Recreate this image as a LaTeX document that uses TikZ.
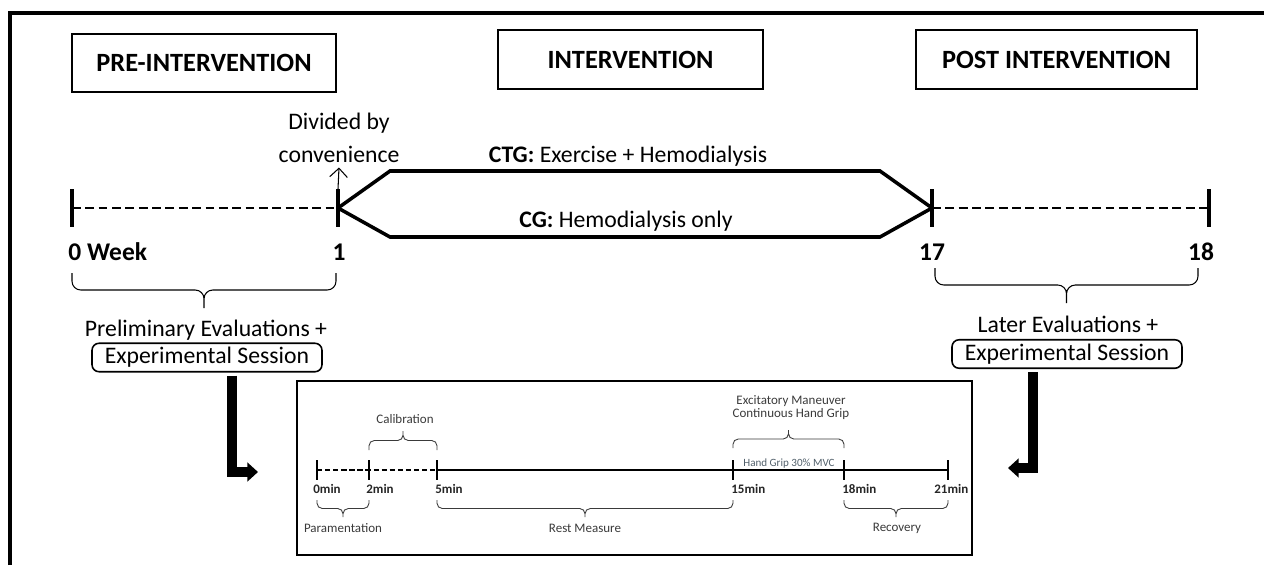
\documentclass[tikz,border=0pt]{standalone}
\usepackage{fontspec}
\setmainfont{Carlito}
\usetikzlibrary{arrows.meta,positioning}
\definecolor{inkgray}{HTML}{3A3A3A}
\definecolor{gripgray}{HTML}{52606B}

\begin{document}
\begin{tikzpicture}[x=0.02cm,y=-0.02cm,
  phase/.style={draw,line width=1.1pt,inner sep=0pt,minimum height=1.17cm,font=\fontsize{15}{18}\selectfont\bfseries},
  lbl/.style={inner sep=0pt,anchor=base,font=\fontsize{13.5}{16}\selectfont},
  wk/.style={inner sep=0pt,anchor=base,font=\fontsize{14.5}{17}\selectfont\bfseries},
  sess/.style={draw,rounded corners=4pt,line width=0.9pt,inner sep=0pt,minimum width=4.6cm,minimum height=0.57cm,font=\fontsize{13.5}{16}\selectfont},
  wtick/.style={line width=2.3pt},
  dashline/.style={line width=1.7pt,dash pattern=on 5pt off 2.6pt},
  arm/.style={line width=2pt,line join=miter},
  bigbrace/.style={rounded corners=5pt,line width=0.6pt},
  bigarrow/.style={line width=5.6pt,line join=miter,-{Triangle[width=10.5pt,length=6pt]}},
  itick/.style={line width=1.5pt},
  iline/.style={line width=1.1pt},
  idash/.style={line width=1.3pt,dash pattern=on 3pt off 1.6pt},
  imin/.style={inner sep=0pt,anchor=base west,font=\fontsize{7.4}{9}\selectfont\bfseries,text=black!85},
  itxt/.style={inner sep=0pt,anchor=base,font=\fontsize{7.4}{9}\selectfont,text=inkgray},
  ibrace/.style={rounded corners=3pt,line width=0.5pt,draw=inkgray}]
\useasboundingbox (0,0) rectangle (1264,565);
\draw[line width=2.3pt,line join=miter] (10,565) -- (10,13) -- (1264,13);

\node[phase,minimum width=5.28cm] (pre) at (204,63) {PRE-INTERVENTION};
\node[phase,minimum width=5.3cm] (inter) at (630.5,59.5) {INTERVENTION};
\node[phase,minimum width=5.62cm] (post) at (1056.5,59.5) {POST INTERVENTION};

% weeks
\coordinate (w0) at (72,208);
\coordinate (w1) at (338,208);
\coordinate (w17) at (932,208);
\coordinate (w18) at (1209,208);
\coordinate (ctgL) at (390,171);
\coordinate (ctgR) at (880,171);
\coordinate (cgL) at (390,237);
\coordinate (cgR) at (880,237);
\draw[dashline] (w0) -- (w1);
\draw[dashline] (w17) -- (w18);
\draw[arm] (w1) -- (ctgL) -- (ctgR) -- (w17);
\draw[arm] (w1) -- (cgL) -- (cgR) -- (w17);
\foreach \c in {w0,w1,w17,w18}
  \draw[wtick] (\c) +(0,-19) -- +(0,19);

\node[lbl] (divided) at (339,129) {Divided by};
\node[lbl] (conv) at (339,162) {convenience};
\draw[line width=0.6pt,-{Straight Barb[length=5pt,width=10pt]}] ([yshift=0.38cm]w1) -- ([yshift=-0.1cm]conv.south);

\node[lbl] (ctg) at (628,162) {\textbf{CTG:} Exercise + Hemodialysis};
\node[lbl] (cg) at (626,227) {\textbf{CG:} Hemodialysis only};

\node[wk,anchor=base west] (lw0) at (68,260) {0 Week};
\node[wk] (lw1) at (339,260) {1};
\node[wk] (lw17) at (932,260) {17};
\node[wk] (lw18) at (1201,260) {18};

\foreach \a/\b/\y in {72/336/273,935/1198/268}
  \draw[bigbrace] (\a,\y) |- ({(\a+\b)/2},{\y+17}) -- ({(\a+\b)/2},{\y+35})
                  (\b,\y) |- ({(\a+\b)/2},{\y+17}) -- ({(\a+\b)/2},{\y+35});

\node[lbl] (prelim) at (206,336) {Preliminary Evaluations +};
\node[sess] (sesspre) at (207,357.5) {Experimental Session};
\node[lbl] (later) at (1068,332) {Later Evaluations +};
\node[sess] (sesspost) at (1067,354) {Experimental Session};

% session detail
\node[draw,line width=0.9pt,inner sep=0pt,minimum width=13.5cm,minimum height=3.48cm] (session) at (634.5,468) {};
\coordinate (tipL) at (258,472);
\coordinate (tipR) at (1008,468);
\draw[bigarrow] ([xshift=0.5cm,yshift=-0.06cm]sesspre.south) |- (tipL);
\draw[bigarrow] ([xshift=-0.68cm,yshift=-0.06cm]sesspost.south) |- (tipR);

\foreach \n/\x in {0/317,2/369,5/437,15/733,18/844,21/948}
  \coordinate (m\n) at (\x,470);
\draw[idash] (m0) -- (m5);
\draw[iline] (m5) -- (m21);
\foreach \n in {0,2,5,15,18,21}
  \draw[itick] (m\n) +(0,-10) -- +(0,10);
\node[imin] (l0) at (313,493) {0min};
\node[imin] (l2) at (366,493) {2min};
\node[imin] (l5) at (435,493) {5min};
\node[imin] (l15) at (731,493) {15min};
\node[imin] (l18) at (842,493) {18min};
\node[imin] (l21) at (934,493) {21min};

\foreach \a/\b/\y/\h in {369/437/450/-9.5,733/844/448/-9,317/369/500/8.5,437/733/500/8.5,844/948/500/8.5}
  \draw[ibrace] (\a,\y) |- ({(\a+\b)/2},{\y+\h}) -- ({(\a+\b)/2},{\y+2*\h})
                (\b,\y) |- ({(\a+\b)/2},{\y+\h}) -- ({(\a+\b)/2},{\y+2*\h});

\node[itxt] (calib) at (405,423) {Calibration};
\node[itxt] (param) at (343,532) {Paramentation};
\node[itxt] (rest) at (585,532) {Rest Measure};
\node[itxt] (recov) at (897,531) {Recovery};
\node[itxt] (excit) at (791,404) {Excitatory Maneuver};
\node[itxt] (cont) at (791,417) {Continuous Hand Grip};
\node[itxt,font=\fontsize{6.3}{8}\selectfont,text=gripgray] (grip) at (789,466) {Hand Grip 30\% MVC};
\end{tikzpicture}
\end{document}
